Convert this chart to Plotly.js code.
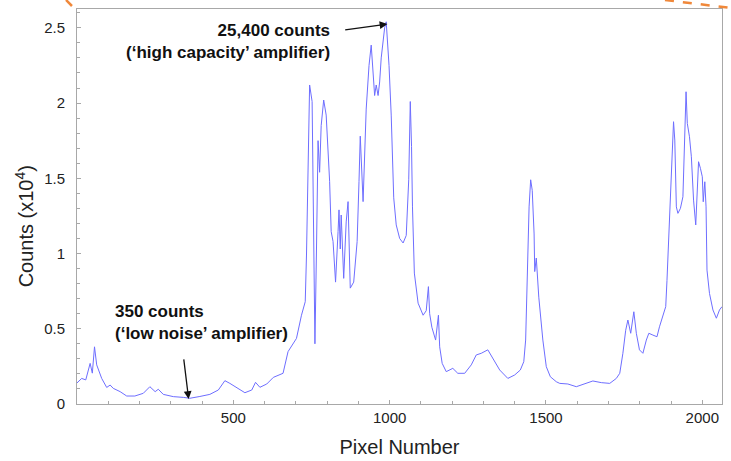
<!DOCTYPE html>
<html>
<head>
<meta charset="utf-8">
<script src="https://cdn.plot.ly/plotly-3.0.1.min.js"></script>
<style>html,body{margin:0;padding:0;background:#fff;}#chart{width:731px;height:461px;}</style>
</head>
<body>
<div id="chart"></div>
<script>
// Pixel number along the detector
const pixels = [0,15,28,42,49,56,63,79,95,106,116,138,159,185,212,233,250,260,276,308,340,361,393,425,452,473,489,511,537,559,571,585,607,628,639,659,675,702,718,730,734,739,744,752,757,761,766,771,776,781,789,797,808,813,819,827,835,838,842,845,853,861,867,874,885,896,902,906,915,925,934,941,952,957,963,968,973,984,989,998,1005,1013,1021,1032,1043,1053,1061,1066,1070,1073,1079,1091,1107,1117,1124,1128,1135,1147,1156,1160,1168,1181,1202,1218,1240,1261,1277,1293,1314,1330,1352,1378,1400,1418,1429,1435,1440,1446,1451,1456,1462,1464,1469,1477,1490,1501,1514,1533,1544,1570,1597,1624,1650,1677,1704,1725,1736,1746,1755,1762,1771,1781,1789,1799,1810,1821,1829,1842,1855,1863,1874,1883,1887,1893,1901,1908,1912,1917,1922,1930,1938,1943,1948,1952,1959,1965,1972,1979,1984,1988,1994,2000,2003,2008,2012,2015,2023,2034,2045,2055,2063];
// Counts in units of 10^4
const counts = [0.14,0.17,0.16,0.27,0.205,0.38,0.26,0.17,0.11,0.126,0.104,0.082,0.053,0.053,0.071,0.115,0.082,0.098,0.064,0.049,0.044,0.038,0.050,0.064,0.093,0.155,0.137,0.11,0.075,0.093,0.144,0.111,0.133,0.177,0.186,0.204,0.348,0.436,0.59,0.68,0.99,1.70,2.12,2.01,1.256,0.40,1.03,1.75,1.54,1.85,2.02,1.92,1.48,1.145,1.08,0.81,1.145,1.29,1.03,1.256,0.835,1.21,1.345,0.77,0.81,1.08,1.48,1.78,1.345,1.96,2.25,2.385,2.05,2.12,2.05,2.14,2.30,2.50,2.54,2.25,1.92,1.37,1.19,1.10,1.07,1.12,1.49,2.01,1.71,1.31,0.87,0.67,0.59,0.62,0.78,0.60,0.51,0.425,0.59,0.38,0.27,0.215,0.237,0.204,0.204,0.26,0.326,0.337,0.36,0.30,0.226,0.17,0.193,0.226,0.281,0.425,0.935,1.31,1.49,1.42,1.13,0.88,0.97,0.71,0.425,0.248,0.181,0.148,0.137,0.133,0.115,0.133,0.153,0.142,0.137,0.17,0.204,0.337,0.49,0.558,0.47,0.613,0.47,0.36,0.337,0.425,0.47,0.458,0.447,0.513,0.58,0.647,0.82,1.156,1.60,1.876,1.754,1.31,1.267,1.30,1.377,1.71,2.075,1.865,1.776,1.643,1.355,1.19,1.42,1.61,1.566,1.51,1.344,1.477,1.31,0.89,0.735,0.625,0.57,0.625,0.647];

const xTickVals = [500,1000,1500,2000];
const xTickText = ['500','1000','1500','2000'];
const yTickVals = [0,0.5,1,1.5,2,2.5];
const yTickText = ['0','0.5','1','1.5','2','2.5'];

const font = 'Liberation Sans, Arial, Helvetica, sans-serif';

const trace = {
  x: pixels, y: counts, type: 'scatter', mode: 'lines',
  line: {color: 'rgb(110,110,255)', width: 1},
  hoverinfo: 'skip'
};

const axisCommon = {
  showgrid: false, zeroline: false, showline: true, mirror: true,
  linecolor: '#a8a8a8', linewidth: 1,
  ticks: 'inside', ticklen: 4, tickcolor: '#a8a8a8', tickwidth: 1,
  tickfont: {family: font, size: 15, color: '#222'}
};

const layout = {
  width: 731, height: 461,
  margin: {l: 77, r: 9, t: 9, b: 57},
  paper_bgcolor: '#fff', plot_bgcolor: '#fff',
  showlegend: false,
  xaxis: Object.assign({}, axisCommon, {
    range: [0, 2063], tickmode: 'array', tickvals: xTickVals, ticktext: xTickText,
    ticklabelstandoff: 0,
    minor: {tickmode: 'linear', tick0: 0, dtick: 100, ticks: 'inside', ticklen: 3, tickcolor: '#a8a8a8'},
    title: {text: 'Pixel Number', font: {family: font, size: 20, color: '#222'}, standoff: 14}
  }),
  yaxis: Object.assign({}, axisCommon, {
    range: [0, 2.625], tickmode: 'array', tickvals: yTickVals, ticktext: yTickText,
    ticklabelstandoff: 8,
    minor: {tickmode: 'linear', tick0: 0, dtick: 0.1, ticks: 'inside', ticklen: 3, tickcolor: '#a8a8a8'},
    title: {text: ''}
  }),
  annotations: [
    {xref: 'paper', yref: 'paper', x: -0.082, y: 0.45, text: 'Counts (x10<sup>4</sup>)', textangle: -90,
     showarrow: false, xanchor: 'center', yanchor: 'middle', font: {family: font, size: 20, color: '#222'}},
    {xref: 'x', yref: 'y', x: 815, y: 2.41, xanchor: 'right', yanchor: 'middle', align: 'right', showarrow: false,
     text: '<b>25,400 counts</b><br><b>(‘high capacity’ amplifier)</b>', font: {family: font, size: 17, color: '#111'}},
    {xref: 'x', yref: 'y', x: 114, y: 0.54, xanchor: 'left', yanchor: 'middle', align: 'left', showarrow: false,
     text: '<b>350 counts</b><br><b>(‘low noise’ amplifier)</b>', font: {family: font, size: 17, color: '#111'}},
    {xref: 'x', yref: 'y', x: 993, y: 2.525, axref: 'x', ayref: 'y', ax: 853, ay: 2.485, text: '',
     showarrow: true, arrowhead: 2, arrowsize: 1.2, arrowwidth: 1.3, arrowcolor: '#111'},
    {xref: 'x', yref: 'y', x: 357, y: 0.033, axref: 'x', ayref: 'y', ax: 341, ay: 0.306, text: '',
     showarrow: true, arrowhead: 2, arrowsize: 1.2, arrowwidth: 1.3, arrowcolor: '#111'}
  ],
  shapes: [
    {type: 'line', xref: 'paper', yref: 'paper', x0: 0.9116, y0: 1.0228, x1: 1.014, y1: 1.0025,
     line: {color: '#f0883a', width: 2.5, dash: 'dash'}},
    {type: 'line', xref: 'paper', yref: 'paper', x0: -0.017, y0: 1.0228, x1: -0.0078, y1: 1.0076,
     line: {color: '#f0883a', width: 2.5}}
  ]
};

Plotly.newPlot('chart', [trace], layout, {displayModeBar: false, staticPlot: true});
</script>
</body>
</html>
